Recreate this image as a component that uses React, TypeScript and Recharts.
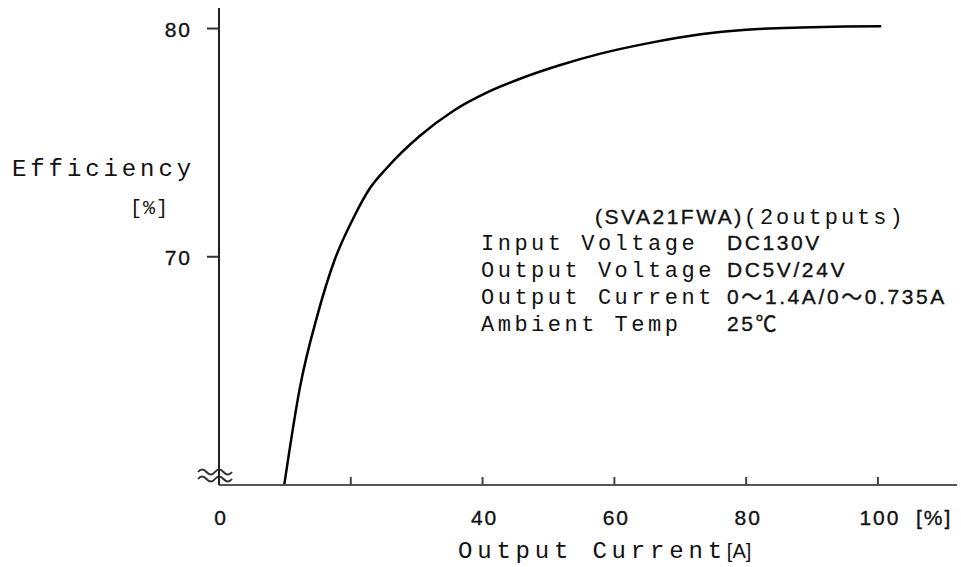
import React from 'react';
import { LineChart, Line, XAxis, YAxis, Customized } from 'recharts';

const currentPct = [9.9, 12.3, 14.9, 17.6, 20.4, 22.9, 25.5, 30.5, 35.6, 40.7, 45.7, 51.8, 57.9, 65, 73.1, 80, 88.3, 95, 100.5];
const efficiency = [60, 64.3, 67.4, 69.9, 71.7, 73.0, 73.9, 75.3, 76.4, 77.2, 77.8, 78.4, 78.9, 79.35, 79.75, 79.95, 80.05, 80.09, 80.1];

const xTicks = [0, 20, 40, 60, 80, 100];
const xTickLabels = ['0', '', '40', '60', '80', '100'];
const yTicks = [70, 80];
const yTickLabels = ['70', '80'];

const titleModel = '(SVA21FWA)';
const titleOutputs = '(2outputs)';
const specLabels = ['Input Voltage', 'Output Voltage', 'Output Current', 'Ambient Temp'];
const specValues = ['DC130V', 'DC5V/24V', '0〜1.4A/0〜0.735A', '25℃'];

const data = currentPct.map((x, i) => ({ x, eff: efficiency[i] }));

const MONO = "'Liberation Mono', 'DejaVu Sans Mono', monospace";
const SANS = "'Liberation Sans', Arial, 'Noto Sans CJK JP', sans-serif";
const INK = '#111';

const XTick = (props: any) => {
  const { x, y, payload } = props;
  const v = payload.value;
  const label = xTickLabels[xTicks.indexOf(v)] ?? '';
  return (
    <g>
      {v !== 0 && <line x1={x} x2={x} y1={y - 8} y2={y} stroke="#444" strokeWidth={2} />}
      {label !== '' && (
        <text x={x + 2} y={y + 40} textAnchor="middle" fontFamily={SANS} fontSize={21} letterSpacing={2} fill={INK} stroke={INK} strokeWidth={0.35}>
          {label}
        </text>
      )}
    </g>
  );
};

const YTick = (props: any) => {
  const { x, y, payload } = props;
  const label = yTickLabels[yTicks.indexOf(payload.value)] ?? '';
  return (
    <g>
      <line x1={x - 12} x2={x} y1={y} y2={y} stroke="#333" strokeWidth={2} />
      <text x={x - 27} y={y + 8} textAnchor="end" fontFamily={SANS} fontSize={21} letterSpacing={2} fill={INK} stroke={INK} strokeWidth={0.35}>
        {label}
      </text>
    </g>
  );
};

const Annotations = () => (
  <g>
    <text x={12} y={176} fontFamily={MONO} fontSize={24} letterSpacing={3.9} fill={INK}>Efficiency</text>
    <text x={130} y={214} fontFamily={MONO} fontSize={20} letterSpacing={1} fill={INK}>[%]</text>
    <text x={458} y={558} fill={INK}>
      <tspan fontFamily={MONO} fontSize={24} letterSpacing={4.8}>Output Current</tspan>
      <tspan fontFamily={SANS} fontSize={20}>[A]</tspan>
    </text>
    <text x={916} y={525} fontFamily={SANS} fontSize={21} letterSpacing={2} fill={INK} stroke={INK} strokeWidth={0.35}>[%]</text>
    <path d="M198,472 q4,-5 8.5,0 t8.5,0 t8.5,0 t8.5,0" fill="none" stroke="#333" strokeWidth={2} />
    <path d="M198,479 q4,-5 8.5,0 t8.5,0 t8.5,0 t8.5,0" fill="none" stroke="#333" strokeWidth={2} />
    <text x={595} y={224} fill={INK}>
      <tspan fontFamily={SANS} fontSize={21} letterSpacing={2.5} stroke={INK} strokeWidth={0.35}>{titleModel}</tspan>
      <tspan fontFamily={MONO} fontSize={22} letterSpacing={3}>{titleOutputs}</tspan>
    </text>
    {specLabels.map((s, i) => (
      <text key={s} x={481} y={250 + i * 27} fontFamily={MONO} fontSize={22} letterSpacing={3.5} fill={INK}>{s}</text>
    ))}
    {specValues.map((s, i) => (
      <text key={s} x={727} y={250 + i * 27} fontFamily={SANS} fontSize={21} letterSpacing={2.6} fill={INK} stroke={INK} strokeWidth={0.35}>{s}</text>
    ))}
  </g>
);

export default function App() {
  return (
    <div style={{ position: 'absolute', left: 0, top: 0, width: 961, height: 567, background: '#fff' }}>
      <LineChart width={961} height={567} data={data} margin={{ top: 8, right: 4, bottom: 0, left: 0 }}>
        <XAxis
          type="number"
          dataKey="x"
          domain={[0, 112]}
          ticks={xTicks}
          allowDataOverflow
          height={82}
          axisLine={{ stroke: '#555', strokeWidth: 2 }}
          tickLine={false}
          tickSize={0}
          tickMargin={0}
          tick={(p: any) => <XTick {...p} />}
          interval={0}
        />
        <YAxis
          type="number"
          domain={[60, 80.9]}
          ticks={yTicks}
          allowDataOverflow
          width={219}
          axisLine={{ stroke: '#222', strokeWidth: 2 }}
          tickLine={false}
          tickSize={0}
          tickMargin={0}
          tick={(p: any) => <YTick {...p} />}
          interval={0}
        />
        <Line
          type="monotone"
          dataKey="eff"
          stroke="#000"
          strokeWidth={2.5}
          dot={false}
          isAnimationActive={false}
        />
        <Customized component={<Annotations />} />
      </LineChart>
    </div>
  );
}
